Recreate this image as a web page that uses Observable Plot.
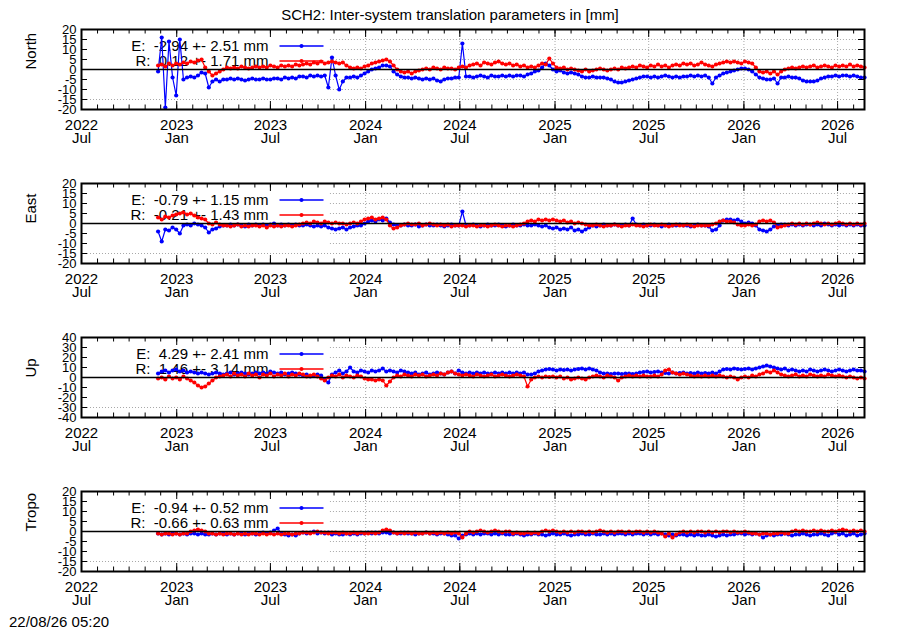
<!DOCTYPE html>
<html>
<head>
<meta charset="utf-8">
<script src="https://cdn.jsdelivr.net/npm/d3@7"></script>
<script src="https://cdn.jsdelivr.net/npm/@observablehq/plot@0.6"></script>
<style>
html, body { margin: 0; padding: 0; background: #fff; width: 900px; height: 630px; overflow: hidden;
  font-family: "Liberation Sans", Arial, sans-serif; color: #000; }
#title { position: absolute; left: 0; top: 7px; width: 900px; text-align: center; font-size: 15px; line-height: 15px; z-index: 2; }
#stamp { position: absolute; left: 9px; top: 614px; font-size: 15px; line-height: 15px; z-index: 2; }
#panels { position: absolute; left: 0; top: 20px; z-index: 1; }
#panels svg { display: block; }
svg text { white-space: pre; }
</style>
</head>
<body>
<div id="title"></div>
<div id="panels"></div>
<div id="stamp"></div>
<script>
// ---------- text ----------
const titleText = "SCH2: Inter-system translation parameters in [mm]";
const stampText = "22/08/26 05:20";
const panelNames = ["North", "East", "Up", "Tropo"];
const yLimits = [20, 20, 40, 20];
const yTickSteps = [5, 5, 10, 5];
const legendE = ["E:  -2.94 +- 2.51 mm", "E:  -0.79 +- 1.15 mm", "E:  4.29 +- 2.41 mm", "E:  -0.94 +- 0.52 mm"];
const legendR = ["R:  0.12 +- 1.71 mm", "R:  -0.21 +- 1.43 mm", "R:  1.46 +- 3.14 mm", "R:  -0.66 +- 0.63 mm"];
const monthLabels = {0: "Jan", 6: "Jul"};

// ---------- time axis ----------
const xDomain = ["2022-07-01", "2026-08-22"];
const seriesStart = "2022-11-26";   // first sample
const stepDays = 7;                 // one sample per week
const keyBoxEnd = "2023-10-25";     // right edge of the opaque key box
const gridXFrom = "2024-01-01";     // vertical grid visible from here on

// ---------- values (mm), weekly samples ----------
const northE = [
-1, 16, -19, 14, -4, -13, 15, -5, -4, -3.5,
-4, -3, -1.5, -2, -9, -6, -5, -6, -5, -5,
-4.5, -5, -4.5, -5, -5.5, -5, -4.5, -5, -5, -4.5,
-5, -5, -4.5, -4.5, -5, -4, -4.5, -4, -4.5, -3.5,
-3.5, -4, -3, -3.5, -3, -3.5, -3, -9, 6, -3,
-10, -6, -4, -4, -3.5, -4, -3, -2, -1, 0,
0.5, 1, 2, 2, 1.5, -1, -2.5, -3.5, -4, -4,
-4.5, -4, -4.5, -5, -4.5, -5, -4.5, -5.5, -6, -5,
-4.5, -4.5, -4, -4, 13, -3.5, -3.5, -4, -3.5, -3,
-3.5, -4, -3, -3.5, -3.5, -3, -3.5, -3, -3.5, -3,
-3, -3.5, -2.5, -2, -1, -0.5, 1, 3, 2, 0,
-1, -0.5, -1.5, -2, -1.5, -2, -2.5, -3.5, -4, -4,
-3.5, -4, -4, -4, -4.5, -5, -6, -6.5, -6.5, -6,
-5.5, -5, -4.5, -4, -3.5, -3.5, -4, -3.5, -4, -3.5,
-3, -3.5, -4, -3.5, -4, -3.5, -3.5, -3, -3.5, -3,
-3.5, -3, -4, -7, -4, -3, -2, -1.5, -1, -0.5,
0, 0.5, 0.5, 0, -1, -2.5, -4, -4.5, -5, -5,
-4.5, -7, -4, -4, -3.5, -4, -4, -4.5, -5.5, -6,
-6, -6, -5.5, -4.5, -4, -3.5, -3.5, -3, -3.5, -3,
-3, -3.5, -3, -3.5, -4, -4
];
const northR = [
2, 2.5, 1.5, 3, 2, 3, 2.5, 3.5, 3, 4,
3.5, 4.5, 5, 1, -1, -3, -2, -1, 0, 1,
0.5, 1, 0.5, 1.5, 1, 0.5, 1, 1.5, 1, 1.5,
1, 2, 1.5, 1, 2, 1.5, 2, 1.5, 2.5, 2,
2.5, 3, 2.5, 3.5, 3, 4, 3, 3.5, 4, 3.5,
3, 3.5, 2, 1, 0.5, 1, 0.5, 1.5, 2, 3,
3.5, 4, 4.5, 5, 4, 2, 0, -1, -1.5, -1,
-2, -1, -0.5, 0, 0.5, 0, 1, 0.5, 0, 1,
0.5, 0.5, 0, 1, 1.5, 1, 2, 2.5, 3, 2,
3.5, 3, 2.5, 3.5, 4, 3, 2.5, 3, 2, 2.5,
1.5, 2, 1, 1.5, 1, 2, 3, 2.5, 5.5, 3,
1, 0.5, 1, 0, 0.5, 0, -0.5, -1, 0, -1,
-0.5, 0, 0.5, 0, -0.5, 0, 0.5, 0, 1, 0.5,
1, 1.5, 1, 2, 1.5, 1, 2, 1.5, 2.5, 1.5,
2, 1, 2, 2.5, 2, 3, 2.5, 3, 2, 2.5,
3.5, 2.5, 2, 1.5, 2.5, 3, 3.5, 4, 3.5, 4,
3.5, 3, 4, 3.5, 3, 1, -1, -1.5, -1, -2,
-1, -2.5, -1, 0, 0.5, 1, 0.5, 1, 1.5, 1,
1.5, 2, 1, 1.5, 2, 1.5, 1, 2, 1.5, 2,
1.5, 2.5, 1.5, 2, 1.5, 1
];
const eastE = [
-4, -9, -3, -3.5, -2, -3, -5, -1, -0.5, -1,
0, -0.5, -1, -2, -4.5, -3, -2.5, -1.5, -1, -1,
-0.5, -1, -0.5, -1, -1.5, -0.5, -1, -0.5, -1, -0.5,
-1, -0.5, 0, -1, -0.5, -1, -0.5, -1, -0.5, -1,
-1, -0.5, -1, -1.5, -1, -1.5, -1, -2, -2.5, -3,
-2.5, -2, -3, -2, -1.5, -1, -1, 0, 1, 1.5,
1, 2, 1.5, 2.5, 0.5, -0.5, -1, -1, -0.5, -1,
-1, -0.5, -1.5, -1, -0.5, -1, -1, -0.5, -1, -1.5,
-1, -0.5, -1, -1, 6, -1, -1, -0.5, -1, -1.5,
-1, -0.5, -1, -1, -0.5, -1, -1.5, -1, -0.5, -1,
-1, -0.5, -1, -1, -0.5, -1, -1.5, -1, -2, -2.5,
-2, -3, -2.5, -3, -2, -3.5, -3, -4, -3, -2,
-1, -1.5, -1, -0.5, -1, -1, -0.5, -1, -1, -0.5,
-1, 2.5, -0.5, -1, -0.5, -1, -1, -0.5, -1, -1.5,
-1, -0.5, -1, -1, -0.5, -1, -1, -1.5, -1, -0.5,
-1, -1, -1.5, -3.5, -3, -1, 1.5, 2, 2, 1.5,
2, 1, 0, 0.5, 0, -1, -3, -3.5, -4, -3,
-1.5, -1, -0.5, -0.5, -1, -0.5, -1, -0.5, -1, -0.5,
-0.5, -1, -0.5, -1, 0, -0.5, -1, -0.5, -1, -0.5,
-1, -0.5, -1, -0.5, -1, -1
];
const eastR = [
3, 2, 3.5, 3, 4, 4.5, 5, 5.5, 4.5, 5,
4, 3, 2.5, 2, 0, -0.5, 0.5, -0.5, -1, -1,
-1.5, -1, -0.5, -1.5, -1, -1.5, -1, -1, -1.5, -1,
-2, -1, -1.5, -1, -1.5, -1, -1, -1.5, -1, -0.5,
0, 0.5, 0, 1, 0.5, 0, 1, 0.5, 0, 0.5,
0, 0, -0.5, 0, 0.5, 0, 1, 2, 2.5, 3,
2, 2.5, 3, 2, -1, -2.5, -2, -1, -0.5, 0,
-0.5, -0.5, 0, -1, -0.5, 0, -0.5, -1, -0.5, -1,
-0.5, -1.5, -1, -1, -1, -1.5, -1, -1, -1.5, -1,
-1, -1.5, -1, -0.5, -1, -1.5, -1, -1, -1.5, -1,
-0.5, 0, 1, 1.5, 1, 2, 1.5, 2, 1.5, 2,
1.5, 1, 1.5, 0.5, 1, 0, 0.5, 0, -0.5, -1,
-1, -0.5, -1, -1.5, -1, -1, -0.5, -1, -1.5, -1,
-1, -0.5, -1, -1, -1.5, -1, -0.5, -1, -1, -0.5,
-1, -1.5, -1, -0.5, -1, -1, -0.5, -1, -1.5, -1,
-1, -1, -1, -0.5, 0, 1, 1.5, 1, 1, 0.5,
-0.5, -1, -1, -0.5, -1, -0.5, 1, 1.5, 1, 1.5,
0.5, -2, -1.5, -1, -0.5, 0, -0.5, 0, -0.5, 0,
-0.5, 0, 0.5, 0, -0.5, 0, -0.5, 0, 0.5, 0,
-0.5, 0, -0.5, 0, -0.5, 0
];
const upE = [
4, 6, 7, 5, 7, 8, 6, 7, 5, 6,
5, 4, 5, 4, 3, 4, 5, 4, 3, 4,
5, 3, 4, 5, 4, 3, 4, 5, 4, 5,
4, 6, 5, 4, 5, 3, 4, 5, 4, 3,
2, 3, 1, 2, 3, 2, -2, -5, 3, 5,
7, 4, 6, 10, 6, 5, 7, 6, 5, 7,
6, 7, 9, 6, 7, 6, 5, 7, 6, 5,
4, 5, 3, 4, 5, 3, 4, 5, 4, 3,
5, 6, 4, 7, 5, 4, 5, 4, 5, 4,
5, 4, 4, 5, 4, 5, 4, 5, 4, 5,
4, 5, 3, 3, 4, 6, 7, 8, 8.5, 8,
7, 8, 7.5, 8, 7, 8, 8.5, 9, 8, 9,
8, 7, 5, 4, 4, 3.5, 4, 4, 3.5, 4,
4, 3.5, 4, 5, 5.5, 6, 5, 5.5, 6, 5,
4.5, 4, 5, 4, 4.5, 5, 4, 4.5, 4, 5,
4, 4.5, 4, 5, 4, 6, 8, 8.5, 8, 9,
8.5, 8, 8.5, 9, 8, 9, 10, 11, 12, 11,
10, 9, 8, 9, 7, 8, 7, 6, 7, 6,
8, 7, 6, 7, 8, 7, 6, 7, 8, 7,
6, 7, 8, 7, 7, 6
];
const upR = [
-1, 0, -2, 1, -1, 0, -2, 1, -1, -3,
-5, -8, -10, -9, -6, -3, 0, 1, 2, 3,
1, 4, 2, 3, 1, 4, 2, 3, 0, 3,
2, 4, 1, 3, 2, 4, 1, 3, 2, 4,
3, 1, 2, 3, 1, -1, -3, 0, 2, 1,
3, 0, 2, 1, 0, 2, 1, -1, -2, -2,
-3, -2, -3, -8, -4, 0, 2, 1, 3, 2,
1, 3, 2, 3, 1, 2, 3, 2, 4, 3,
5, 6, 4, 3, 2, 3, 2, 1, 3, 2,
1, 2, 3, 1, 2, 3, 2, 1, 2, 3,
2, 1, -9, -2, 0, 1, 0, 1, 0.5, 1,
0, 1, -1, 0, -2, -1, 0, -1, -2, 0,
1, 2, 1, 0, 2, 1, 0, -3, 0, 1,
2, 1, 2, 1, 2, 1, 1, 2, 1, 3,
7, 8, 5, 4, 3, 4, 3, 2, 1, 2,
1, 2, 1, 2, 1, 2, 1, 0, 1, 0,
-2, 0, 1, 0, 2, 1, 3, 4, 6, 5,
7, 5, 3, 2, 1, 2, 3, 1, 2, 1,
3, 2, 1, 2, 1, 3, 2, 1, 2, 1,
0, 1, 0, -1, 0, -1
];
const tropoE = [
-1, -1.5, -1, -1.5, -1, -1, -1.5, -1, -1.5, -1,
-1, -1.5, -1, -1.5, -1.5, -1, -1.5, -1, -1, -1.5,
-1, -1.5, -1, -1, -1.5, -1, -1, -1.5, -1, -0.5,
-1, -0.5, 0.5, 1.5, -1, -1.5, -2, -1.5, -2, -1,
-0.5, -1, -0.5, 0, -1, -0.5, -1, -0.5, -1.5, -1,
-1.5, -1.5, -1, -1.5, -1, -1.5, -1, -1, -0.5, -1,
-0.5, -1, -0.5, -0.5, -1, -0.5, -1, -1, -0.5, -1,
-1, -1.5, -1, -1, -0.5, -1, -1, -1.5, -1, -1,
-1.5, -2, -2, -3.5, -2, -1.5, -1, -1.5, -1, -1.5,
-1, -1, -1.5, -1, -1.5, -1, -1.5, -1.5, -1.5, -1,
-1.5, -2, -1.5, -1.5, -1, -1.5, -1.5, -2, -1.5, -1,
-1.5, -1.5, -1, -1.5, -2, -1.5, -1.5, -1, -1.5, -1.5,
-1, -1.5, -1.5, -1, -1.5, -1, -1.5, -1, -1, -1.5,
-1, -1.5, -1, -1, -1.5, -1, -1.5, -1, -1.5, -1,
-1.5, -2, -1.5, -2, -1.5, -1.5, -2, -1.5, -2, -1.5,
-2, -2, -1.5, -2, -2.5, -2, -1.5, -2, -1.5, -1.5,
-1, -1, -1.5, -1, -1.5, -1, -1.5, -3, -2, -1.5,
-2, -1.5, -1.5, -1, -1.5, -2, -1.5, -1.5, -1, -1.5,
-2, -1.5, -1.5, -1, -1.5, -2, -1, -0.5, -1.5, -1,
-2, -1.5, -1, -2, -1.5, -1
];
const tropoR = [
-1, -1.5, -1, -1, -1.5, -1, -1.5, -1, -1, 0,
0.5, 1, 0.5, 0, -1, -1, -1.5, -1, -1.5, -1,
-1, -1.5, -1, -1.5, -1, -1.5, -1, -1, -1.5, -1,
-1.5, -1, -1.5, -1, -1.5, -1, -1, -1.5, -1, -1,
-0.5, -0.5, -1, -0.5, 0, -0.5, -0.5, -1, -0.5, -0.5,
-1, -0.5, -1, -1, -0.5, -1, -0.5, -1, -1, -0.5,
-1, -0.5, 0.5, 1, 0.5, -0.5, -1, -0.5, -1, -0.5,
-1, -0.5, -1, -1, -0.5, -1, -0.5, -1, -0.5, -1,
-0.5, -1, -0.5, -1, -3, -1, 0, -0.5, 0, 0.5,
0, -0.5, 0, 0.5, 0, -0.5, 0, 0, -1, -0.5,
-1, -1, -0.5, -1, -0.5, -1, 0, 0.5, 0, 0.5,
0, -0.5, 0, -0.5, 0, -0.5, 0, 0, -0.5, 0,
-0.5, 0, 0.5, 0, -0.5, 0, -0.5, 0, 0, -0.5,
0, -0.5, 0, 0, -0.5, 0, -0.5, 0, -0.5, -1,
-2.5, -1, -3, -1.5, -0.5, 0, -0.5, 0, -0.5, 0,
0, -0.5, 0, -0.5, 0, -0.5, 0, 0, -0.5, 0,
-0.5, -0.5, 0, -0.5, -1, -1, -1.5, -1, -1, -1.5,
-1, -1, -0.5, -1, -1, 0, 0.5, 0, 0.5, 0,
0, 0.5, 0, 0.5, 0, 0, 0.5, 0, 0.5, 1,
0.5, 0, 0.5, 0, 0.5, 0
];

const seriesE = [northE, eastE, upE, tropoE];
const seriesR = [northR, eastR, upR, tropoR];

// ---------- build ----------
const FONT = '"Liberation Sans", Arial, sans-serif';
const utc = s => new Date(s + "T00:00:00Z");
const dom = xDomain.map(utc);
const start = utc(seriesStart);
const keyEnd = utc(keyBoxEnd);
const gridFrom = utc(gridXFrom);
const toRows = arr => arr.map((v, i) => ({date: d3.utcDay.offset(start, i * stepDays), value: v}));
const majorTicks = d3.utcMonth.every(6).range(dom[0], d3.utcDay.offset(dom[1], 1));
const minorTicks = d3.utcMonth.range(dom[0], d3.utcDay.offset(dom[1], 1));
const fmtX = d => `${d.getUTCFullYear()}\n${monthLabels[d.getUTCMonth()]}`;

const W = 900, H = 154, ML = 81, MR = 36, MT = 9, MB = 65;
const FW = W - ML - MR, FH = H - MT - MB;
const gridStyle = {stroke: "#a8a8a8", strokeWidth: 1, strokeDasharray: "1,2"};

document.getElementById("title").textContent = titleText;
document.getElementById("stamp").textContent = stampText;
const host = document.getElementById("panels");

panelNames.forEach((name, k) => {
  const lim = yLimits[k], step = yTickSteps[k];
  const yTicks = d3.range(-lim, lim + step / 2, step);
  const gridVals = yTicks.filter(v => v !== 0 && Math.abs(v) !== lim);
  const lowest = d3.min(gridVals);
  const eRows = toRows(seriesE[k]);
  const rRows = toRows(seriesR[k]);
  const keyRows = [
    {label: legendE[k], color: "blue", dy: 16.5},
    {label: legendR[k], color: "red", dy: 31.5}
  ];
  const marks = [
    // grid
    Plot.ruleY(gridVals, {y: d => d, x1: d => d === lowest ? dom[0] : keyEnd, x2: dom[1], ...gridStyle}),
    Plot.ruleX(majorTicks.filter(d => d >= gridFrom && d < dom[1]), {x: d => d, ...gridStyle}),
    // key
    ...keyRows.map(r => Plot.text([r.label], {text: d => d, frameAnchor: "top-left", dx: 187, dy: r.dy,
      textAnchor: "end", lineAnchor: "middle", fill: "black", fontSize: 15})),
    ...keyRows.map(r => Plot.frame({fill: r.color, stroke: null, insetLeft: 198, insetRight: FW - 242,
      insetTop: r.dy - 0.75, insetBottom: FH - r.dy - 0.75})),
    ...keyRows.map(r => Plot.dot([r.label], {frameAnchor: "top-left", dx: 220, dy: r.dy, r: 2, fill: r.color})),
    // data
    Plot.line(eRows, {x: "date", y: "value", stroke: "blue", strokeWidth: 1.2}),
    Plot.dot(eRows, {x: "date", y: "value", r: 2.1, fill: "blue"}),
    Plot.line(rRows, {x: "date", y: "value", stroke: "red", strokeWidth: 1.2}),
    Plot.dot(rRows, {x: "date", y: "value", r: 2.1, fill: "red"}),
    Plot.ruleY([0], {y: d => d, stroke: "black", strokeWidth: 1.3}),
    // inward ticks
    Plot.tickX(minorTicks, {x: d => d, insetTop: FH - 4.5, stroke: "black"}),
    Plot.tickX(minorTicks, {x: d => d, insetBottom: FH - 4.5, stroke: "black"}),
    Plot.tickX(majorTicks, {x: d => d, insetTop: FH - 8, stroke: "black"}),
    Plot.tickX(majorTicks, {x: d => d, insetBottom: FH - 8, stroke: "black"}),
    Plot.tickY(yTicks, {y: d => d, insetRight: FW - 6, stroke: "black"}),
    Plot.tickY(yTicks, {y: d => d, insetLeft: FW - 6, stroke: "black"}),
    // axis labels
    Plot.axisY({anchor: "left", ticks: yTicks, tickSize: 0, tickPadding: 5, tickFormat: d => String(d), label: null, fontSize: 13}),
    Plot.axisX({anchor: "bottom", ticks: majorTicks, tickSize: 0, tickPadding: 11, tickFormat: fmtX, label: null, lineHeight: 0.87, fontSize: 15}),
    Plot.text([name], {text: d => d, frameAnchor: "left", dx: -50, rotate: -90, fill: "black", fontSize: 15}),
    Plot.frame({stroke: "black", strokeWidth: 2})
  ];
  const svg = Plot.plot({
    width: W, height: H, marginLeft: ML, marginRight: MR, marginTop: MT, marginBottom: MB,
    style: {fontFamily: FONT, fontSize: "15px", color: "black", background: "transparent", overflow: "visible"},
    x: {type: "utc", domain: dom},
    y: {domain: [-lim, lim]},
    marks
  });
  host.appendChild(svg);
});
</script>
</body>
</html>
